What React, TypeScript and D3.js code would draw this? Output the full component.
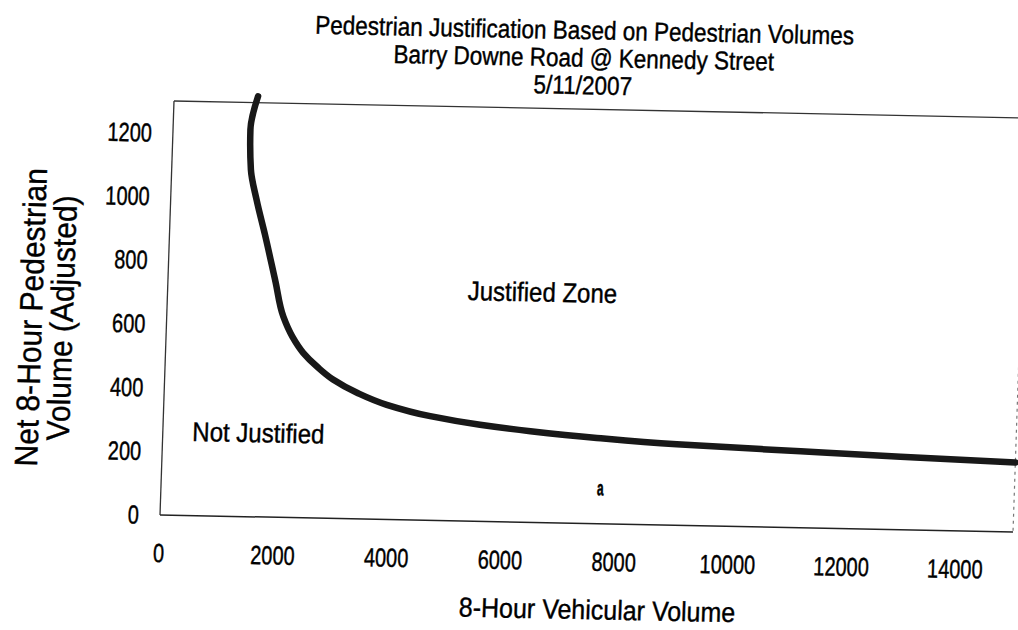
import React from 'react';
import * as d3 from 'd3';

// curve (8-hour vehicles vs. net 8-hour pedestrians)
const vehVolume = [1475, 1360, 1392, 1510, 1680, 1890, 2050, 2220, 2420, 2680, 2960, 3390, 3920, 4690, 5570, 6460, 7630, 9040, 11220, 12980, 15000];
const pedVolume = [1320, 1215, 1090, 995, 885, 740, 630, 568, 518, 474, 436, 396, 360, 327, 303, 286, 269, 254, 240, 229, 218];

const xTicks = [0, 2000, 4000, 6000, 8000, 10000, 12000, 14000];
const yTicks = [0, 200, 400, 600, 800, 1000, 1200];

const titleLines = [
  'Pedestrian Justification Based on Pedestrian Volumes',
  'Barry Downe Road @ Kennedy Street',
  '5/11/2007',
];
const yTitleLines = ['Net 8-Hour Pedestrian', 'Volume (Adjusted)'];
const xTitle = '8-Hour Vehicular Volume';

const zoneLabels = [
  { text: 'Justified Zone', veh: 6590, ped: 723 },
  { text: 'Not Justified', veh: 1680, ped: 264 },
];

const width = 1018;
const height = 630;
const left = 174;
const top = 101;
const plotW = 853;
const plotH = 414;

const font = '"Liberation Sans", Arial, sans-serif';
// the scan is slightly skewed: emulate it with one affine matrix
const skew = 'matrix(1, 0.0199, -0.0338, 1, 3.41, -3.47)';

type TxtProps = {
  x: number;
  y: number;
  size: number;
  sx?: number;
  sy?: number;
  rotate?: number;
  anchor?: string;
  weight?: string;
  children: React.ReactNode;
};

const Txt = ({ x, y, size, sx = 1, sy = 1.15, rotate = 0, anchor = 'middle', weight = 'normal', children }: TxtProps) => (
  <text
    transform={`translate(${x},${y}) rotate(${rotate}) scale(${sx},${sy})`}
    fontSize={size}
    fontFamily={font}
    fontWeight={weight}
    textAnchor={anchor}
    dy="0.35em"
    fill="#000"
    stroke="#000"
    strokeWidth={0.35}
  >
    {children}
  </text>
);

const App = () => {
  const x = d3.scaleLinear().domain([0, 15000]).range([left, left + plotW]);
  const y = d3.scaleLinear().domain([0, 1300]).range([top + plotH, top]);

  const pts = vehVolume.map((v, i) => [v, pedVolume[i]] as [number, number]);
  const line = d3
    .line<[number, number]>()
    .x((d) => x(d[0]))
    .y((d) => y(d[1]))
    .curve(d3.curveMonotoneY);

  return (
    <svg
      width={width}
      height={height}
      style={{ position: 'absolute', left: 0, top: 0, background: '#fff' }}
    >
      <rect width={width} height={height} fill="#fff" />
      <g transform={skew}>
        {titleLines.map((t, i) => (
          <Txt key={t} x={582} y={22 + i * 27.5} size={22.5}>
            {t}
          </Txt>
        ))}

        {/* plot frame */}
        <line x1={left} y1={top} x2={left + plotW} y2={top} stroke="#333" strokeWidth={1.3} />
        <line x1={left} y1={top} x2={left} y2={top + plotH} stroke="#333" strokeWidth={1.3} />
        <line x1={left} y1={top + plotH} x2={left + plotW} y2={top + plotH} stroke="#222" strokeWidth={1.5} />
        <line
          x1={left + plotW}
          y1={top + plotH * 0.55}
          x2={left + plotW}
          y2={top + plotH}
          stroke="#777"
          strokeWidth={1.2}
          strokeDasharray="3 4"
        />

        {yTicks.map((t) => (
          <Txt key={t} x={left - 21} y={y(t)} size={21} sx={0.95} sy={1.25} anchor="end">
            {t}
          </Txt>
        ))}
        {xTicks.map((t) => (
          <Txt key={t} x={x(t)} y={top + plotH + 38} size={21} sx={0.95} sy={1.25}>
            {t}
          </Txt>
        ))}

        <path d={line(pts) ?? ''} fill="none" stroke="#181818" strokeWidth={6.5} strokeLinecap="round" />

        {zoneLabels.map((z) => (
          <Txt key={z.text} x={x(z.veh)} y={y(z.ped)} size={24} sy={1.12}>
            {z.text}
          </Txt>
        ))}
        <Txt x={x(7720)} y={y(112)} size={15} sx={0.8} sy={1.4} weight="bold">
          a
        </Txt>

        <Txt x={614} y={601} size={25} sy={1.1}>
          {xTitle}
        </Txt>
        {yTitleLines.map((t, i) => (
          <Txt key={t} x={38 + i * 31} y={320} size={30} sy={1.08} rotate={-90}>
            {t}
          </Txt>
        ))}
      </g>
    </svg>
  );
};

export default App;
